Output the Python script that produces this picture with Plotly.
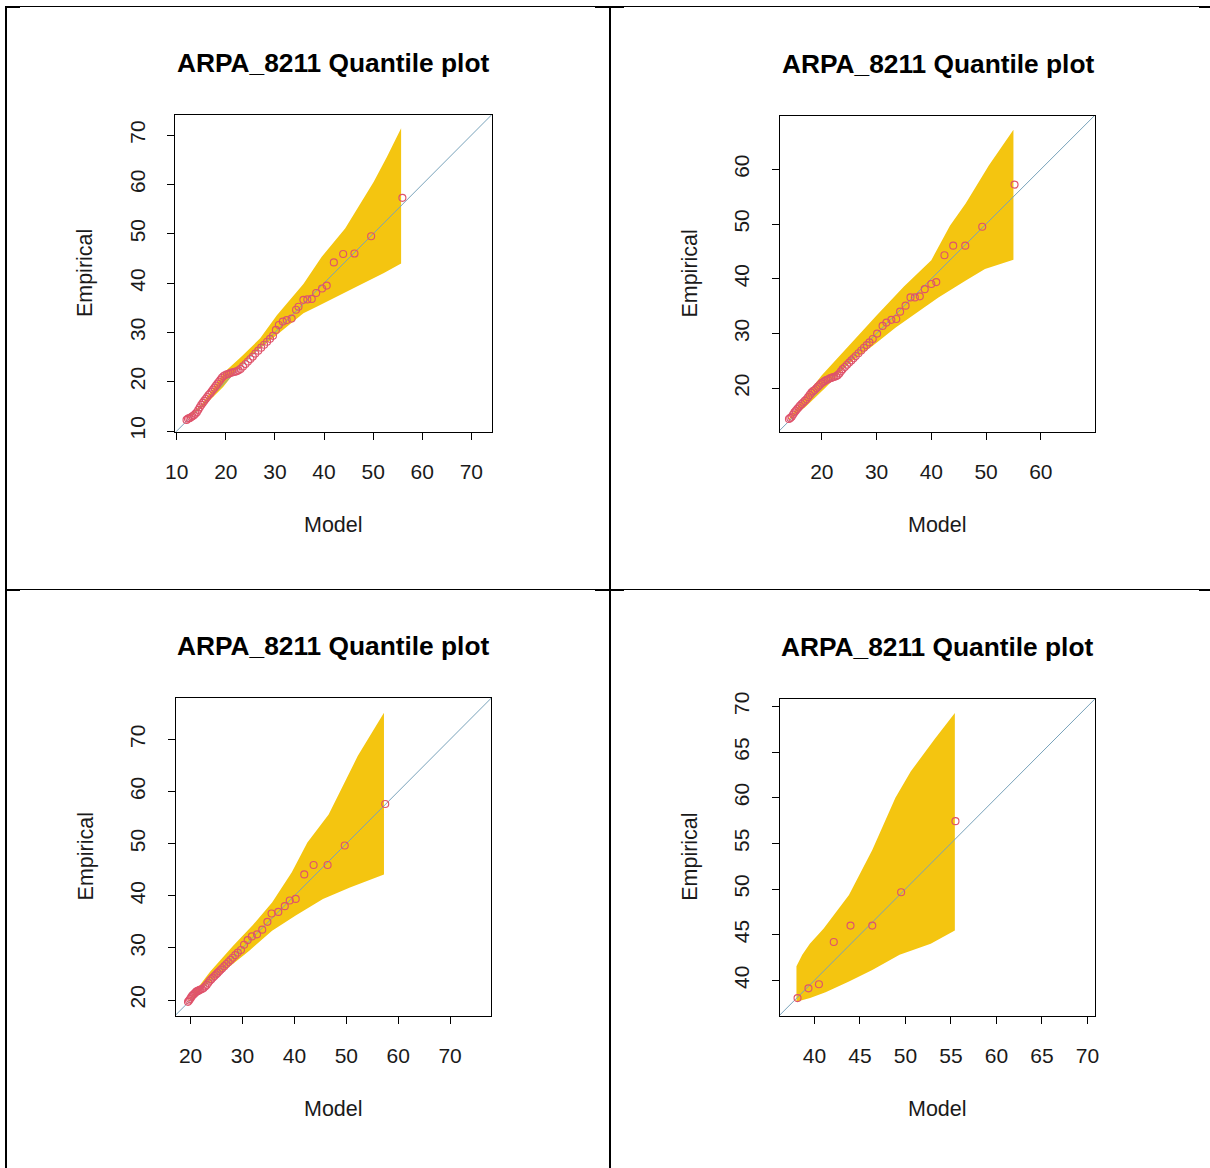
import plotly.graph_objects as go

W, H = 1210, 1168
TITLE = "ARPA_8211 Quantile plot"

# ---- panel 1 (top-left) ----
p1_model = [12.0, 12.3, 12.6, 12.9, 13.2, 13.5, 13.8, 14.1, 14.4, 14.7,
            15.0, 15.3, 15.6, 15.9, 16.2, 16.5, 16.8, 17.1, 17.4, 17.7,
            18.0, 18.3, 18.6, 18.9, 19.2, 19.5, 19.8, 20.2, 20.6, 21.0,
            21.4, 21.8, 22.2, 22.6, 23.0, 23.5, 24.0, 24.5, 25.0, 25.5,
            26.0, 26.6, 27.2, 27.8, 28.4, 29.0, 29.6, 30.2, 30.8, 31.6,
            32.4, 33.4, 34.3, 34.8, 35.8, 36.6, 37.5, 38.4, 39.6, 40.55,
            42.0, 43.9, 46.2, 49.6, 55.96]
p1_emp = [12.25, 12.5, 12.6, 12.8, 13.0, 13.2, 13.5, 13.8, 14.3, 14.8,
          15.3, 15.7, 16.1, 16.5, 16.9, 17.3, 17.6, 18.0, 18.4, 18.8,
          19.2, 19.6, 20.0, 20.4, 20.8, 21.1, 21.3, 21.5, 21.6, 21.8,
          21.9, 22.0, 22.1, 22.3, 22.6, 23.1, 23.6, 24.1, 24.6, 25.1,
          25.7, 26.3, 26.9, 27.5, 28.1, 28.7, 29.3, 30.5, 31.5, 32.2,
          32.5, 32.8, 34.6, 35.2, 36.6, 36.7, 36.8, 38.0, 38.9, 39.5,
          44.2, 45.9, 46.0, 49.5, 57.3]
p1_up_x = [12.0, 15.4, 19.8, 23.2, 27.0, 30.4, 35.8, 39.5, 44.3, 47.0, 50.1, 52.8, 55.7]
p1_up_y = [12.4, 15.8, 22.0, 25.1, 28.8, 33.5, 39.8, 45.3, 51.1, 55.5, 60.5, 65.6, 71.4]
p1_lo_x = [12.0, 15.4, 19.5, 22.2, 24.9, 28.3, 31.7, 35.8, 38.5, 42.6, 46.7, 52.1, 55.7]
p1_lo_y = [12.3, 14.9, 19.0, 22.4, 25.1, 27.8, 30.5, 33.9, 35.2, 37.2, 39.3, 42.0, 44.0]
p1_xrange = [9.65, 74.15]
p1_yrange = [9.86, 74.2]
p1_xticks = [10, 20, 30, 40, 50, 60, 70]
p1_yticks = [10, 20, 30, 40, 50, 60, 70]

# ---- panel 2 (top-right) ----
p2_model = [14.0, 14.25, 14.5, 14.75, 15.0, 15.25, 15.5, 15.75, 16.0, 16.3,
            16.6, 16.9, 17.2, 17.5, 17.8, 18.1, 18.4, 18.7, 19.0, 19.3,
            19.6, 19.9, 20.2, 20.5, 20.8, 21.1, 21.4, 21.7, 22.0, 22.3,
            22.6, 22.9, 23.2, 23.5, 23.8, 24.2, 24.6, 25.0, 25.4, 25.8,
            26.2, 26.7, 27.2, 27.7, 28.2, 28.7, 29.3, 30.1, 31.1, 31.8,
            32.7, 33.6, 34.3, 35.3, 36.2, 37.0, 37.9, 38.8, 40.0, 40.9,
            42.4, 44.0, 46.2, 49.3, 55.2]
p2_emp = [14.4, 14.6, 14.8, 15.2, 15.6, 15.9, 16.2, 16.5, 16.8, 17.1,
          17.4, 17.7, 18.0, 18.4, 18.8, 19.2, 19.5, 19.7, 20.0, 20.3,
          20.6, 20.9, 21.1, 21.3, 21.5, 21.6, 21.8, 21.9, 22.0, 22.1,
          22.2, 22.4, 22.7, 23.1, 23.5, 23.9, 24.3, 24.7, 25.1, 25.5,
          25.9, 26.4, 26.9, 27.4, 27.9, 28.4, 29.0, 30.0, 31.4, 32.0,
          32.5, 32.65, 34.0, 35.1, 36.6, 36.6, 36.8, 38.1, 39.05, 39.4,
          44.3, 46.05, 46.05, 49.5, 57.2]
p2_up_x = [14.0, 17.0, 20.0, 25.0, 30.0, 35.0, 40.0, 43.4, 46.3, 50.5, 55.0]
p2_up_y = [14.5, 18.6, 22.4, 27.9, 33.3, 38.6, 43.4, 49.7, 53.8, 60.7, 67.2]
p2_lo_x = [14.0, 17.0, 20.7, 25.0, 29.2, 33.5, 38.5, 41.3, 46.3, 49.8, 55.0]
p2_lo_y = [14.2, 16.6, 20.15, 24.6, 27.7, 31.1, 34.6, 36.6, 39.7, 41.8, 43.5]
p2_xrange = [12.31, 69.95]
p2_yrange = [12.04, 69.75]
p2_xticks = [20, 30, 40, 50, 60]
p2_yticks = [20, 30, 40, 50, 60]

# ---- panel 3 (bottom-left) ----
p3_model = [19.5, 19.7, 19.9, 20.1, 20.3, 20.5, 20.7, 20.9, 21.1, 21.3,
            21.5, 21.7, 21.9, 22.2, 22.5, 22.8, 23.1, 23.4, 23.7, 24.0,
            24.3, 24.6, 24.9, 25.2, 25.5, 25.8, 26.1, 26.5, 26.9, 27.3,
            27.7, 28.1, 28.6, 29.1, 29.7, 30.3, 31.0, 31.8, 32.8, 33.8,
            34.8, 35.6, 36.9, 38.15, 39.1, 40.25, 41.9, 43.7, 46.4, 49.7,
            57.5]
p3_emp = [19.65, 19.9, 20.2, 20.5, 20.8, 21.0, 21.2, 21.4, 21.6, 21.7,
          21.8, 21.9, 22.0, 22.1, 22.3, 22.6, 22.9, 23.3, 23.7, 24.0,
          24.3, 24.6, 24.9, 25.2, 25.5, 25.8, 26.1, 26.5, 26.9, 27.3,
          27.7, 28.1, 28.6, 29.1, 29.6, 30.6, 31.5, 32.2, 32.6, 33.5,
          35.0, 36.6, 36.9, 38.0, 39.1, 39.4, 44.1, 45.9, 45.9, 49.65,
          57.6]
p3_up_x = [19.5, 20.75, 23.75, 28.2, 32.0, 35.7, 39.5, 42.5, 46.6, 52.2, 57.26]
p3_up_y = [19.7, 21.5, 25.4, 30.4, 34.4, 38.7, 44.5, 50.2, 55.6, 66.8, 75.1]
p3_lo_x = [19.5, 22.25, 26.7, 31.25, 35.7, 40.25, 45.5, 50.7, 57.26]
p3_lo_y = [19.6, 22.2, 25.8, 29.4, 33.3, 36.2, 39.4, 41.6, 44.1]
p3_xrange = [17.09, 77.94]
p3_yrange = [16.99, 77.93]
p3_xticks = [20, 30, 40, 50, 60, 70]
p3_yticks = [20, 30, 40, 50, 60, 70]

# ---- panel 4 (bottom-right) ----
p4_model = [38.15, 39.35, 40.5, 42.13, 43.97, 46.36, 49.53, 55.5]
p4_emp = [38.06, 39.13, 39.58, 44.2, 46.0, 46.0, 49.65, 57.44]
p4_up_x = [38.03, 38.67, 39.5, 41.0, 43.8, 46.36, 48.9, 50.6, 53.2, 55.43]
p4_up_y = [41.55, 42.8, 44.0, 45.66, 49.35, 54.28, 60.0, 62.9, 66.4, 69.27]
p4_lo_x = [38.03, 39.53, 41.23, 43.8, 46.36, 49.36, 52.78, 55.43]
p4_lo_y = [37.66, 38.06, 38.69, 39.88, 41.14, 42.8, 44.0, 45.45]
p4_xrange = [36.19, 70.85]
p4_yrange = [36.13, 70.87]
p4_xticks = [40, 45, 50, 55, 60, 65, 70]
p4_yticks = [40, 45, 50, 55, 60, 65, 70]

BAND = "#F4C510"
POINT = "#DF536B"
DIAG = "#78A2BA"
FONT = "Liberation Sans, Arial, sans-serif"


def px_x(px):
    return px / W


def px_y(py):
    return 1 - py / H


# plot boxes in page pixels: left, right, top, bottom
panels = [
    dict(box=(175.0, 491.7, 114.5, 431.7), model=p1_model, emp=p1_emp,
         up=(p1_up_x, p1_up_y), lo=(p1_lo_x, p1_lo_y),
         xr=p1_xrange, yr=p1_yrange, xt=p1_xticks, yt=p1_yticks),
    dict(box=(779.7, 1095.3, 115.9, 431.9), model=p2_model, emp=p2_emp,
         up=(p2_up_x, p2_up_y), lo=(p2_lo_x, p2_lo_y),
         xr=p2_xrange, yr=p2_yrange, xt=p2_xticks, yt=p2_yticks),
    dict(box=(175.5, 491.3, 698.1, 1015.7), model=p3_model, emp=p3_emp,
         up=(p3_up_x, p3_up_y), lo=(p3_lo_x, p3_lo_y),
         xr=p3_xrange, yr=p3_yrange, xt=p3_xticks, yt=p3_yticks),
    dict(box=(779.7, 1095.2, 698.5, 1015.7), model=p4_model, emp=p4_emp,
         up=(p4_up_x, p4_up_y), lo=(p4_lo_x, p4_lo_y),
         xr=p4_xrange, yr=p4_yrange, xt=p4_xticks, yt=p4_yticks),
]

fig = go.Figure()
annotations = []
layout_axes = {}

for i, p in enumerate(panels, start=1):
    sfx = "" if i == 1 else str(i)
    xa, ya = "x" + sfx, "y" + sfx
    left, right, top, bottom = p["box"]

    # envelope polygon: upper edge left->right, lower edge right->left
    ux, uy = p["up"]
    lx, ly = p["lo"]
    fig.add_trace(go.Scatter(
        x=list(ux) + list(lx)[::-1], y=list(uy) + list(ly)[::-1],
        fill="toself", fillcolor=BAND, mode="lines",
        line=dict(color=BAND, width=0), xaxis=xa, yaxis=ya,
        showlegend=False, hoverinfo="skip"))

    # y = x reference line across the whole plotting region
    lo_v = min(p["xr"][0], p["yr"][0]) - 5
    hi_v = max(p["xr"][1], p["yr"][1]) + 5
    fig.add_trace(go.Scatter(
        x=[lo_v, hi_v], y=[lo_v, hi_v], mode="lines",
        line=dict(color=DIAG, width=1), xaxis=xa, yaxis=ya,
        showlegend=False, hoverinfo="skip"))

    fig.add_trace(go.Scatter(
        x=p["model"], y=p["emp"], mode="markers",
        marker=dict(symbol="circle-open", size=7, color=POINT,
                    line=dict(width=1.15, color=POINT)),
        xaxis=xa, yaxis=ya, showlegend=False))

    common = dict(showgrid=False, zeroline=False, showline=True, mirror=True,
                  linecolor="black", linewidth=1, ticks="outside", ticklen=7,
                  tickwidth=1, tickcolor="black", automargin=False,
                  tickfont=dict(family=FONT, size=21, color="#1a1a1a"))
    layout_axes["xaxis" + sfx] = dict(
        common, domain=[px_x(left), px_x(right)], anchor=ya, range=p["xr"],
        tickmode="array", tickvals=p["xt"], ticktext=[str(v) for v in p["xt"]],
        ticklabelstandoff=14)
    layout_axes["yaxis" + sfx] = dict(
        common, domain=[px_y(bottom), px_y(top)], anchor=xa, range=p["yr"],
        tickmode="array", tickvals=p["yt"], ticktext=[str(v) for v in p["yt"]],
        tickangle=-90, ticklabelstandoff=14)

    cx = (left + right) / 2
    cy = (top + bottom) / 2
    annotations.append(dict(
        text=TITLE, x=px_x(cx), y=px_y(top - 52), xref="paper", yref="paper",
        showarrow=False, xanchor="center", yanchor="middle",
        font=dict(family=FONT, size=26.3, color="black", weight="bold")))
    annotations.append(dict(
        text="Model", x=px_x(cx), y=px_y(bottom + 93), xref="paper", yref="paper",
        showarrow=False, xanchor="center", yanchor="middle",
        font=dict(family=FONT, size=21.5, color="#1a1a1a")))
    annotations.append(dict(
        text="Empirical", x=px_x(left - 90), y=px_y(cy), xref="paper", yref="paper",
        showarrow=False, xanchor="center", yanchor="middle", textangle=-90,
        font=dict(family=FONT, size=21.5, color="#1a1a1a")))

# table rules around the four panels
shapes = []


def rect(x0, x1, y0, y1):
    shapes.append(dict(type="rect", xref="paper", yref="paper",
                       x0=px_x(x0), x1=px_x(x1), y0=px_y(y1), y1=px_y(y0),
                       fillcolor="black", line=dict(width=0), layer="above"))


for yline in (6, 589):
    rect(5, W, yline, yline + 1)
    rect(5, 20, yline, yline + 2)
    rect(595, 624, yline, yline + 2)
    rect(1199, W, yline, yline + 2)
rect(5, 7, 6, H)
rect(609, 611, 6, H)

fig.update_layout(
    width=W, height=H, margin=dict(l=0, r=0, t=0, b=0),
    paper_bgcolor="white", plot_bgcolor="white",
    annotations=annotations, shapes=shapes, **layout_axes)

# remove the browser's default page margin so the figure sits at the origin
fig.write_html("out.html", post_script="document.body.style.margin='0';")
